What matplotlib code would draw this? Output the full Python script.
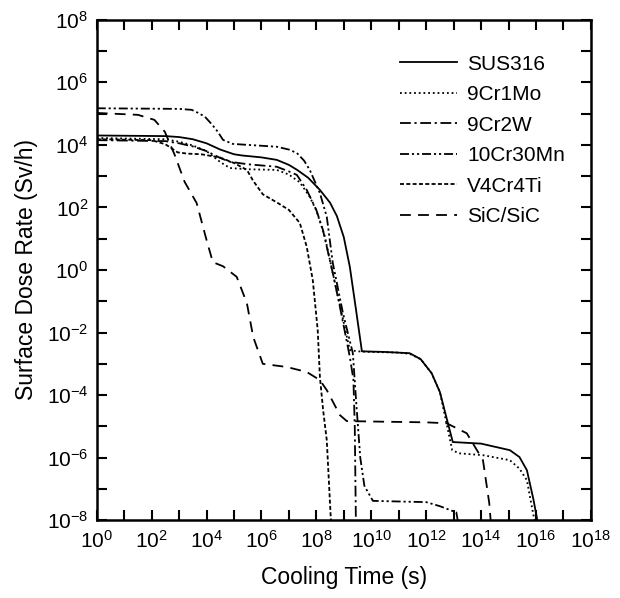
import numpy as np
import matplotlib
matplotlib.use("Agg")
import matplotlib.pyplot as plt

plt.rcParams['font.family'] = ['Liberation Sans', 'DejaVu Sans']
plt.rcParams['mathtext.fontset'] = 'custom'
plt.rcParams['mathtext.rm'] = 'Liberation Sans'
plt.rcParams['axes.unicode_minus'] = False

# data, as log10 values
# log10(cooling time in s) and log10(dose rate in Sv/h)
sus316_t = [0, 2.5, 3.0, 3.5, 4.0, 4.5, 5.0, 5.3, 6.0, 6.56, 7.0, 7.3, 7.7, 8.13, 8.5, 8.75, 9.0, 9.22, 9.45, 9.66,
            10.5, 11.4, 11.8, 12.2, 12.5, 12.97, 14.0, 15.05, 15.4, 15.67, 15.9, 16.05]
sus316_d = [4.30, 4.28, 4.25, 4.18, 4.05, 3.85, 3.70, 3.66, 3.60, 3.52, 3.36, 3.20, 2.95, 2.56, 2.15, 1.72, 1.05, 0.10, -1.3, -2.60,
            -2.62, -2.66, -2.85, -3.30, -3.90, -5.50, -5.55, -5.76, -5.98, -6.40, -7.30, -8.0]

cr1mo_t = [0, 2.5, 3.0, 3.5, 4.0, 4.5, 4.85, 5.5, 6.56, 7.0, 7.4, 7.76, 8.0, 8.3, 8.6, 8.9, 9.22, 9.5, 10.0,
           11.0, 11.4, 11.8, 12.2, 12.5, 12.95, 13.2, 14.07, 15.05, 15.4, 15.67, 15.9, 15.95]
cr1mo_d = [4.22, 4.18, 4.10, 3.98, 3.80, 3.45, 3.26, 3.22, 3.20, 3.05, 2.80, 2.34, 1.90, 1.10, -0.10, -1.30, -2.56, -2.60, -2.62,
           -2.64, -2.68, -2.85, -3.30, -3.90, -5.76, -5.86, -5.92, -6.08, -6.35, -6.72, -7.80, -8.0]

cr2w_t = [0, 2.5, 3.0, 3.5, 4.0, 4.5, 4.85, 5.5, 6.56, 7.0, 7.29, 7.65, 8.0, 8.24, 8.6, 8.86, 9.22, 9.35, 9.40, 9.44]
cr2w_d = [4.15, 4.12, 4.05, 3.95, 3.80, 3.58, 3.46, 3.38, 3.30, 3.15, 3.04, 2.56, 1.92, 1.28, -0.10, -1.18, -2.78, -3.5, -5.0, -8.0]

cr30mn_t = [0, 3.0, 3.46, 3.7, 3.94, 4.2, 4.41, 4.6, 4.96, 5.5, 6.56, 7.0, 7.29, 7.55, 7.76, 8.13, 8.38, 8.6, 8.97,
            9.33, 9.45, 9.6, 9.75, 10.06, 11.0, 12.0, 12.5, 13.1, 13.15]
cr30mn_d = [5.17, 5.15, 5.12, 5.02, 4.90, 4.65, 4.42, 4.16, 4.03, 4.00, 3.94, 3.85, 3.74, 3.50, 3.20, 2.46, 1.70, 0.22, -1.38,
            -2.66, -4.2, -6.0, -6.9, -7.38, -7.40, -7.42, -7.55, -7.75, -8.0]

v4cr4ti_t = [0, 2.0, 2.5, 2.95, 3.3, 3.8, 4.48, 5.0, 5.47, 5.7, 6.05, 6.6, 7.0, 7.4, 7.65, 7.87, 8.05, 8.13,
             8.25, 8.38, 8.53]
v4cr4ti_d = [4.18, 4.15, 4.02, 3.76, 3.72, 3.70, 3.60, 3.42, 3.20, 2.85, 2.42, 2.14, 1.92, 1.50, 0.74, -0.32, -1.92, -3.42,
             -4.5, -5.44, -8.0]

sic_t = [0, 1.5, 2.1, 2.48, 2.84, 3.2, 3.64, 4.0, 4.23, 4.6, 5.1, 5.47, 5.7, 6.05, 6.92, 7.65, 8.13, 8.38, 8.86,
         9.11, 10.5, 12.0, 12.75, 13.48, 14.07, 14.3, 14.35]
sic_d = [5.02, 4.96, 4.80, 4.42, 3.68, 2.82, 2.14, 0.96, 0.25, 0.12, -0.22, -1.06, -2.14, -3.00, -3.10, -3.26, -3.52, -3.84, -4.64,
         -4.83, -4.85, -4.87, -4.90, -5.22, -6.08, -7.46, -8.0]

names = ['SUS316', '9Cr1Mo', '9Cr2W', '10Cr30Mn', 'V4Cr4Ti', 'SiC/SiC']
series = [(sus316_t, sus316_d), (cr1mo_t, cr1mo_d), (cr2w_t, cr2w_d),
          (cr30mn_t, cr30mn_d), (v4cr4ti_t, v4cr4ti_d), (sic_t, sic_d)]
styles = ['-', (0, (1, 1.6)), (0, (6, 2, 1.2, 2)), (0, (5, 1.6, 1.2, 1.6, 1.2, 1.6)),
          (0, (2.2, 1.3)), (0, (6, 4))]

fig = plt.figure(figsize=(6.2, 5.98), dpi=100)
ax = fig.add_axes([0.156, 0.130, 0.797, 0.837])

for (t, d), name, ls in zip(series, names, styles):
    ax.plot(10.0 ** np.array(t), 10.0 ** np.array(d), color='black',
            linestyle=ls, linewidth=1.3, label=name)

ax.set_xscale('log')
ax.set_yscale('log')
ax.set_xlim(1, 1e18)
ax.set_ylim(1e-8, 1e8)

ax.set_xticks([10.0 ** k for k in range(0, 19, 2)])
ax.set_xticks([10.0 ** k for k in range(1, 18, 2)], minor=True)
ax.set_yticks([10.0 ** k for k in range(-8, 9, 2)])
ax.set_yticks([10.0 ** k for k in range(-7, 8, 2)], minor=True)
ax.xaxis.set_minor_formatter(matplotlib.ticker.NullFormatter())
ax.yaxis.set_minor_formatter(matplotlib.ticker.NullFormatter())

ax.tick_params(which='both', direction='in', top=True, right=True,
               length=7, width=1.5, labelsize=15)
ax.tick_params(axis='x', which='major', pad=7)
ax.tick_params(axis='y', which='major', pad=6)
for sp in ax.spines.values():
    sp.set_linewidth(1.8)

ax.set_xlabel('Cooling Time (s)', fontsize=16.5, labelpad=10)
ax.set_ylabel('Surface Dose Rate (Sv/h)', fontsize=16.5, labelpad=6)

ax.legend(loc='upper left', bbox_to_anchor=(0.613, 0.93), frameon=False,
          fontsize=15, handlelength=2.75, handletextpad=0.5,
          labelspacing=0.55, borderpad=0, borderaxespad=0)

fig.savefig('out.png', dpi=100)
